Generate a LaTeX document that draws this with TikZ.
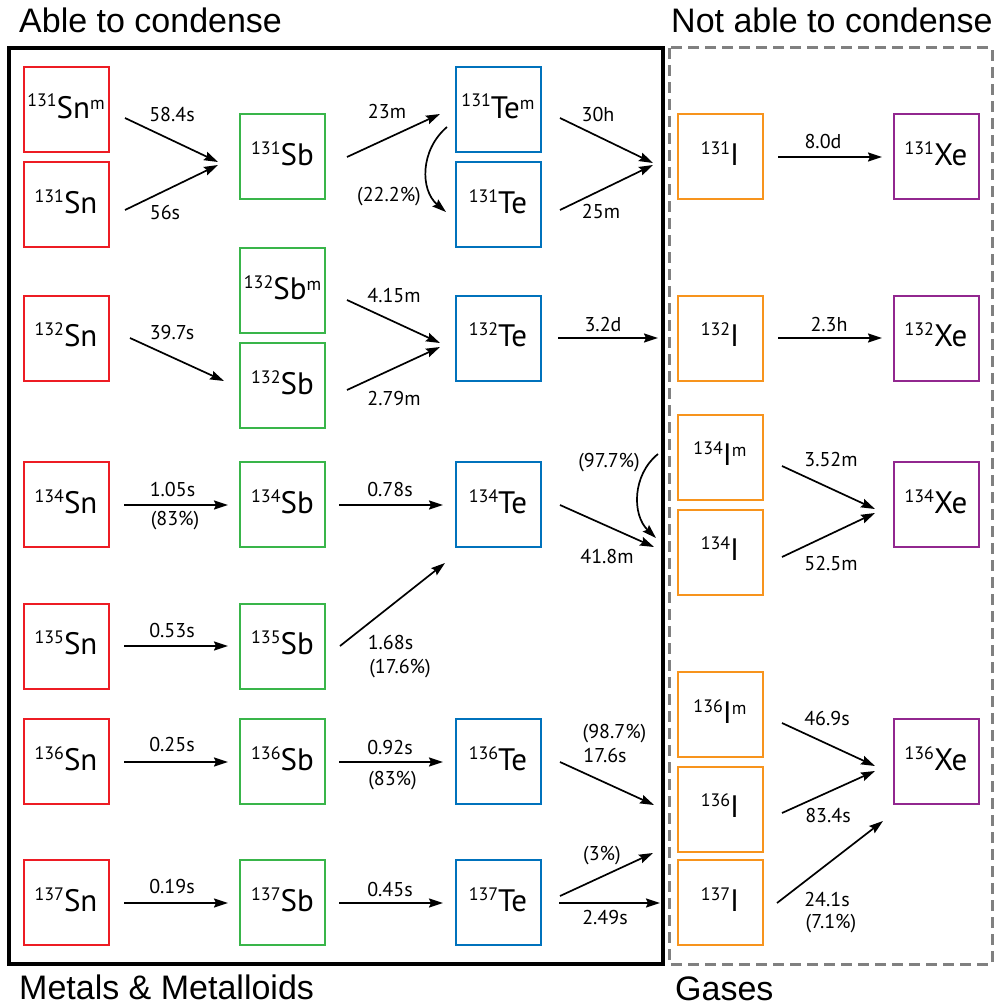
\documentclass[tikz,border=0pt]{standalone}
\usepackage{fontspec}
\setmainfont{PT Sans}
\newfontfamily\titlefont{Liberation Sans}
\usetikzlibrary{arrows.meta}
\definecolor{cRed}{RGB}{237,28,36}
\definecolor{cGreen}{RGB}{57,181,74}
\definecolor{cBlue}{RGB}{0,114,188}
\definecolor{cOrange}{RGB}{247,148,29}
\definecolor{cPurple}{RGB}{146,39,143}
\definecolor{cGray}{RGB}{128,128,128}
\newcommand\mynum[1]{\raisebox{11pt}{\fontsize{18}{18}\selectfont #1}}
\newcommand\mymeta{\raisebox{9pt}{\fontsize{18}{18}\selectfont m}}
\newcommand\iso[2]{\mynum{#1}#2}
\tikzset{
  isobox/.style={draw=#1, line width=2pt, minimum width=85pt, minimum height=85pt,
    inner sep=0pt, text height=17pt, text depth=0pt, font=\fontsize{31}{31}\selectfont},
  arr/.style={line width=1.7pt, -{Stealth[length=14pt,width=9pt,inset=2pt]}},
  lbl/.style={anchor=base, inner sep=0pt, font=\fontsize{20}{20}\selectfont},
  ttl/.style={anchor=base west, inner sep=0pt, font=\titlefont\fontsize{34}{34}\selectfont},
}
\begin{document}
\begin{tikzpicture}[x=1pt,y=-1pt]
\useasboundingbox (0,0) rectangle (995,1006);
% frames
\draw[line width=3.5pt] (9,48) rectangle (663,964);
\draw[cGray, line width=3pt, dash pattern=on 11pt off 6pt] (669,48) rectangle (992,964);
% titles
\node[ttl] (t1) at (19,33) {Able to condense};
\node[ttl] (t2) at (671,33) {Not able to condense};
\node[ttl] (t3) at (19,999) {Metals \& Metalloids};
\node[ttl] (t4) at (675,1000) {Gases};
% Sn
\node[isobox=cRed] (snm131) at (66,109.5) {\iso{131}{Sn}\mymeta};
\node[isobox=cRed] (sn131) at (66,204.5) {\iso{131}{Sn}};
\node[isobox=cRed] (sn132) at (66,338) {\iso{132}{Sn}};
\node[isobox=cRed] (sn134) at (66,504.5) {\iso{134}{Sn}};
\node[isobox=cRed] (sn135) at (66,646) {\iso{135}{Sn}};
\node[isobox=cRed] (sn136) at (66,761.5) {\iso{136}{Sn}};
\node[isobox=cRed] (sn137) at (66,902.5) {\iso{137}{Sn}};
% Sb
\node[isobox=cGreen] (sb131) at (282.5,156.5) {\iso{131}{Sb}};
\node[isobox=cGreen] (sbm132) at (282.5,290.5) {\iso{132}{Sb}\mymeta};
\node[isobox=cGreen] (sb132) at (282.5,385.5) {\iso{132}{Sb}};
\node[isobox=cGreen] (sb134) at (282.5,504.5) {\iso{134}{Sb}};
\node[isobox=cGreen] (sb135) at (282.5,646) {\iso{135}{Sb}};
\node[isobox=cGreen] (sb136) at (282.5,761.5) {\iso{136}{Sb}};
\node[isobox=cGreen] (sb137) at (282.5,902.5) {\iso{137}{Sb}};
% Te
\node[isobox=cBlue] (tem131) at (498,109.5) {\iso{131}{Te}\mymeta};
\node[isobox=cBlue] (te131) at (498,204.5) {\iso{131}{Te}};
\node[isobox=cBlue] (te132) at (498,338) {\iso{132}{Te}};
\node[isobox=cBlue] (te134) at (498,504.5) {\iso{134}{Te}};
\node[isobox=cBlue] (te136) at (498,761.5) {\iso{136}{Te}};
\node[isobox=cBlue] (te137) at (498,902.5) {\iso{137}{Te}};
% I
\node[isobox=cOrange] (i131) at (720,156.5) {\iso{131}{I}};
\node[isobox=cOrange] (i132) at (720,338) {\iso{132}{I}};
\node[isobox=cOrange] (im134) at (720,457) {\iso{134}{I}\mymeta};
\node[isobox=cOrange] (i134) at (720,552) {\iso{134}{I}};
\node[isobox=cOrange] (im136) at (720,714.5) {\iso{136}{I}\mymeta};
\node[isobox=cOrange] (i136) at (720,809) {\iso{136}{I}};
\node[isobox=cOrange] (i137) at (720,902.5) {\iso{137}{I}};
% Xe
\node[isobox=cPurple] (xe131) at (936,156.5) {\iso{131}{Xe}};
\node[isobox=cPurple] (xe132) at (936,338) {\iso{132}{Xe}};
\node[isobox=cPurple] (xe134) at (936,504.5) {\iso{134}{Xe}};
\node[isobox=cPurple] (xe136) at (936,761.5) {\iso{136}{Xe}};
% straight arrows
\foreach \n/\a/\b/\c/\d in {
  1/125/118/218/162, 2/125/210/218/165, 3/347/157/440/114,
  5/560/118/653/163, 6/560/210/653/165, 7/778/157/882/157,
  8/130/338/224/381, 9/347/300/440/343, 10/347/390/440/347,
  11/558/338/658/338, 12/778/338/882/338,
  13/124/505/228/505, 14/339/505/443/505, 15/560/505/654/547,
  17/782/466/875/509, 18/782/557/875/513,
  19/124/646/228/646, 20/340/646/445/563,
  21/124/762/228/762, 22/339/762/443/762, 23/560/762/654/805,
  24/782/723/875/766, 25/782/813/875/771, 26/777/903/883/821,
  27/124/903/228/903, 28/339/903/443/903, 29/560/896/653/853,
  30/559/903/660/903}{
  \coordinate (s\n) at (\a,\b);
  \coordinate (e\n) at (\c,\d);
  \draw[arr] (s\n) -- (e\n);
}
% curved arrows
\coordinate (s4) at (447,127);
\coordinate (e4) at (446,212);
\draw[arr] (s4) .. controls (420,150) and (420,190) .. (e4);
\coordinate (s16) at (658,454);
\coordinate (e16) at (656,538);
\draw[arr] (s16) .. controls (632,475) and (632,515) .. (e16);
% labels
\node[lbl] (l1) at (172,122) {58.4s};
\node[lbl] (l2) at (165,219) {56s};
\node[lbl] (l3) at (387,119) {23m};
\node[lbl] (l4) at (389,201) {(22.2\%)};
\node[lbl] (l5) at (598,122) {30h};
\node[lbl] (l6) at (601,218) {25m};
\node[lbl] (l7) at (823,148) {8.0d};
\node[lbl] (l8) at (172,339) {39.7s};
\node[lbl] (l9) at (394,302) {4.15m};
\node[lbl] (l10) at (394,405) {2.79m};
\node[lbl] (l11) at (603,331) {3.2d};
\node[lbl] (l12) at (829,331) {2.3h};
\node[lbl] (l13) at (172.5,496) {1.05s};
\node[lbl] (l14) at (175,525) {(83\%)};
\node[lbl] (l15) at (390,496) {0.78s};
\node[lbl] (l16) at (607,563) {41.8m};
\node[lbl] (l17) at (609,467) {(97.7\%)};
\node[lbl] (l18) at (831,466) {3.52m};
\node[lbl] (l19) at (831,570) {52.5m};
\node[lbl] (l20) at (172,637) {0.53s};
\node[lbl] (l21) at (390.5,649) {1.68s};
\node[lbl] (l22) at (400,673) {(17.6\%)};
\node[lbl] (l23) at (172,751) {0.25s};
\node[lbl] (l24) at (390,754) {0.92s};
\node[lbl] (l25) at (392.5,785) {(83\%)};
\node[lbl] (l26) at (614.5,738) {(98.7\%)};
\node[lbl] (l27) at (605,762) {17.6s};
\node[lbl] (l28) at (827,725) {46.9s};
\node[lbl] (l29) at (828,822) {83.4s};
\node[lbl] (l30) at (827,906) {24.1s};
\node[lbl] (l31) at (831,928) {(7.1\%)};
\node[lbl] (l32) at (172,893) {0.19s};
\node[lbl] (l33) at (390,896) {0.45s};
\node[lbl] (l34) at (602,860) {(3\%)};
\node[lbl] (l35) at (605,924) {2.49s};
\end{tikzpicture}
\end{document}
